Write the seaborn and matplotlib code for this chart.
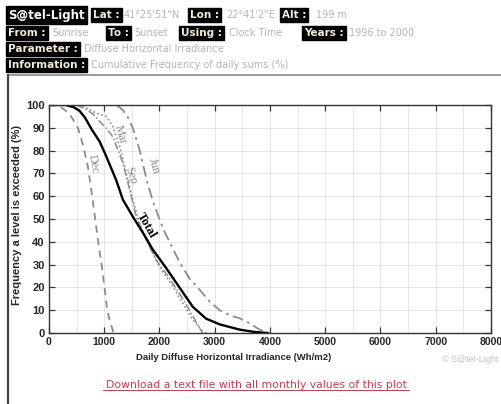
import matplotlib
matplotlib.use("Agg")
import matplotlib.pyplot as plt
from matplotlib.lines import Line2D
from matplotlib.ticker import MultipleLocator
import seaborn as sns

# cumulative frequency curves (x in Wh/m2, y in %)
dec_x = [0, 150, 289, 400, 523, 620, 704, 770, 830, 890, 957, 1000, 1047, 1100, 1137, 1170]
dec_y = [100, 100, 97.8, 95, 90, 82, 73, 62, 51, 40, 29, 21, 11.4, 5, 2.6, 0]

mar_x = [0, 500, 614, 855, 1036, 1157, 1277, 1398, 1518, 1639, 1819, 2000, 2241, 2422, 2602, 2783, 2850]
mar_y = [100, 100, 99.4, 96.5, 95, 90.6, 82, 70, 58.5, 48, 38, 29, 20.5, 13, 5.8, 0.7, 0]

sep_x = [0, 500, 675, 800, 916, 1050, 1157, 1337, 1458, 1578, 1759, 1940, 2181, 2422, 2602, 2723, 2780]
sep_y = [100, 100, 98, 96, 92.8, 89.5, 86, 74.6, 63, 51, 41, 32, 24, 15, 7.5, 2.2, 0]

jun_x = [0, 1100, 1250, 1336, 1420, 1516, 1643, 1769, 1877, 2060, 2241, 2365, 2540, 2726,
         2900, 3087, 3300, 3448, 3650, 3809, 4000]
jun_y = [100, 100, 99.5, 97.8, 95, 90, 80, 67, 58, 46, 37, 31, 24, 19, 14, 10, 7.5, 6.5, 4, 1.5, 0]

total_x = [0, 300, 450, 550, 650, 780, 916, 1036, 1217, 1337, 1518, 1699, 1880, 2120, 2361,
           2602, 2843, 3087, 3448, 3700, 3950]
total_y = [100, 100, 99, 97.5, 94.5, 89, 84, 77.5, 67, 58.5, 51, 44, 36.5, 28.5, 20, 11.5,
           6.3, 3.8, 1.5, 0.5, 0]

# header rows: (label, value)
header_rows = [
    [("Lat :", "41°25'51\"N"), ("Lon :", "22°41'2\"E"), ("Alt :", "199 m")],
    [("From :", "Sunrise"), ("To :", "Sunset"), ("Using :", "Clock Time"), ("Years :", "1996 to 2000")],
    [("Parameter :", "Diffuse Horizontal Irradiance")],
    [("Information :", "Cumulative Frequency of daily sums (%)")],
]

W, H = 502, 404
sns.set_style("ticks")
plt.rcParams["font.family"] = ["Liberation Sans", "DejaVu Sans"]

fig = plt.figure(figsize=(W / 100, H / 100), dpi=100)


def fx(px):
    return px / W


def fy(py):
    return 1 - py / H


# --- header ---
box = dict(boxstyle="square,pad=0.2", facecolor="black", edgecolor="black")
fig.text(fx(8), fy(15), "S@tel-Light", color="white", fontsize=8.5, fontweight="bold",
         va="center", family="DejaVu Sans", bbox=box)
row_pos = [
    (15, [(93, 124), (190, 226), (282, 316)]),
    (33, [(8, 52), (108, 134), (181, 229), (304, 349)]),
    (49, [(8, 84)]),
    (65, [(8, 91)]),
]
for (py, positions), row in zip(row_pos, header_rows):
    for (lx, vx), (lab, val) in zip(positions, row):
        fig.text(fx(lx), fy(py), lab, color="#f4ead8", fontsize=7.5, fontweight="bold",
                 va="center", family="DejaVu Sans", bbox=box)
        fig.text(fx(vx), fy(py), val, color="#b4b4b4", fontsize=7, va="center",
                 family="DejaVu Sans")

fig.add_artist(Line2D([fx(8), fx(502)], [fy(75), fy(75)], color="#8a8a8a", lw=1.2))
fig.add_artist(Line2D([fx(8), fx(8)], [fy(75), fy(404)], color="#444444", lw=1.6))

# --- chart ---
ax = fig.add_axes([fx(49), fy(333), fx(491) - fx(49), fy(105) - fy(333)])

grey = "#8c8c8c"
sns.lineplot(x=dec_x, y=dec_y, ax=ax, color=grey, lw=1.3, linestyle=(0, (4, 3)), sort=False)
sns.lineplot(x=mar_x, y=mar_y, ax=ax, color=grey, lw=1.2, linestyle=(0, (1, 1.5)), sort=False)
sns.lineplot(x=sep_x, y=sep_y, ax=ax, color=grey, lw=1.1, linestyle=(0, (5, 1.5, 1, 1.5)), sort=False)
sns.lineplot(x=jun_x, y=jun_y, ax=ax, color=grey, lw=1.3, linestyle=(0, (6, 2.5, 1.5, 2.5)), sort=False)
sns.lineplot(x=total_x, y=total_y, ax=ax, color="black", lw=1.7, sort=False)

lab_kw = dict(family="Liberation Serif", fontsize=8.5, ha="center", va="center")
ax.text(800, 74, "Dec", color=grey, rotation=-80, **lab_kw)
ax.text(1290, 87, "Mar", color=grey, rotation=-74, **lab_kw)
ax.text(1470, 69, "Sep", color=grey, rotation=-72, **lab_kw)
ax.text(1890, 73, "Jun", color=grey, rotation=-75, **lab_kw)
ax.text(1760, 47, "Total", color="black", rotation=-60, fontweight="bold",
        family="Liberation Serif", fontsize=9, ha="center", va="center")

ax.set_xlim(0, 8000)
ax.set_ylim(0, 100)
ax.xaxis.set_major_locator(MultipleLocator(1000))
ax.xaxis.set_minor_locator(MultipleLocator(500))
ax.yaxis.set_major_locator(MultipleLocator(10))
ax.grid(True, which="both", color="#e2e2e2", lw=0.6)
ax.set_axisbelow(True)
ax.tick_params(which="major", direction="in", length=4, width=0.9, color="#333333",
               top=True, right=True, pad=3)
ax.tick_params(axis="x", labelsize=7.5)
ax.tick_params(axis="y", labelsize=8)
ax.tick_params(which="minor", length=0)
for lbl in ax.get_xticklabels() + ax.get_yticklabels():
    lbl.set_fontweight("bold")
for sp in ax.spines.values():
    sp.set_visible(True)
    sp.set_color("#333333")
    sp.set_linewidth(1.0)

ax.set_xlabel("")
fig.text(fx(234), fy(357), "Daily Diffuse Horizontal Irradiance (Wh/m2)", fontsize=6.8,
         fontweight="bold", ha="center", va="center")
ax.set_ylabel("")
fig.text(fx(17), fy(215), "Frequency a level is exceeded (%)", fontsize=8,
         fontweight="bold", rotation=90, ha="center", va="center")
fig.text(fx(470), fy(359), "© S@tel-Light", color="#c0c0c0", fontsize=6.5, ha="center",
         va="center")

fig.text(fx(256), fy(385), "Download a text file with all monthly values of this plot",
         color="#c43c4c", fontsize=7.8, ha="center", va="center", family="DejaVu Sans")
fig.add_artist(Line2D([fx(103), fx(409)], [fy(389.5), fy(389.5)], color="#c43c4c", lw=0.7))

fig.savefig("out.png", dpi=100)
